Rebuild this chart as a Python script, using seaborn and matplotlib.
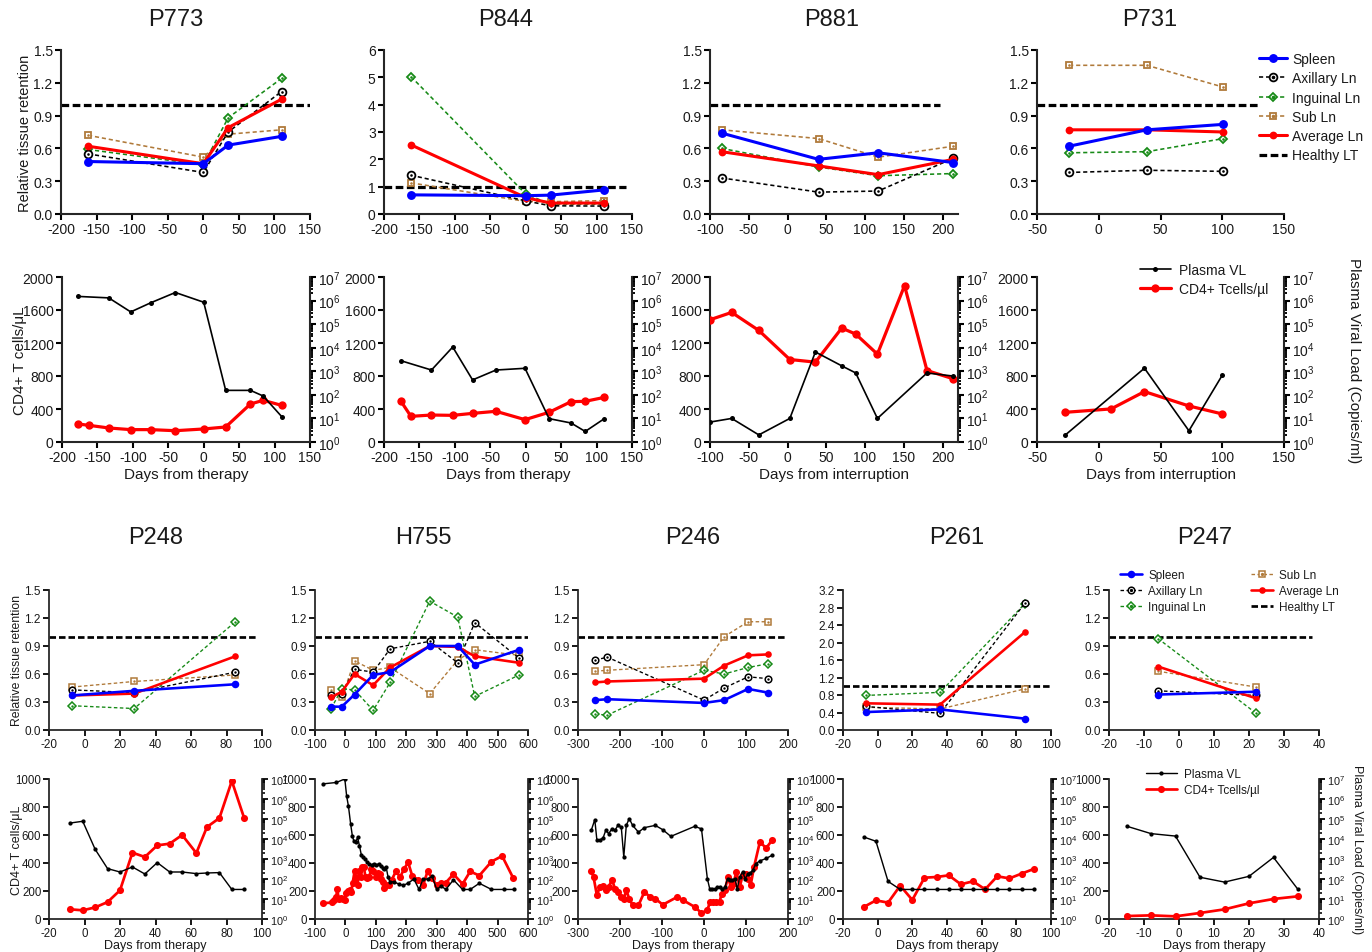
import numpy as np
import matplotlib
matplotlib.use("Agg")
import matplotlib.pyplot as plt
import seaborn as sns
from matplotlib.lines import Line2D
from matplotlib.ticker import LogLocator, NullFormatter, FormatStrFormatter, FixedLocator

# ====================== DATA ======================
# ---- tissue retention (top half) ----
p773_days = [-162, 0, 35, 110]
p773_spleen = [0.48, 0.46, 0.63, 0.71]
p773_axillary = [0.55, 0.38, 0.75, 1.12]
p773_inguinal = [0.59, 0.45, 0.88, 1.24]
p773_sub = [0.72, 0.52, 0.73, 0.77]
p773_average = [0.62, 0.46, 0.79, 1.05]
p773_healthy_x = [-200, 150]

p844_days = [-162, 0, 35, 110]
p844_spleen = [0.70, 0.67, 0.69, 0.88]
p844_axillary = [1.42, 0.48, 0.30, 0.29]
p844_inguinal = [5.03, 0.73, 0.36, 0.36]
p844_sub = [1.14, 0.46, 0.45, 0.49]
p844_average = [2.53, 0.60, 0.40, 0.40]
p844_healthy_x = [-200, 142]

p881_days = [-85, 40, 117, 214]
p881_spleen = [0.74, 0.50, 0.56, 0.47]
p881_axillary = [0.33, 0.20, 0.21, 0.51]
p881_inguinal = [0.60, 0.43, 0.35, 0.37]
p881_sub = [0.77, 0.69, 0.52, 0.62]
p881_average = [0.57, 0.44, 0.36, 0.50]
p881_healthy_x = [-100, 197]

p731_days = [-24, 39, 101]
p731_spleen = [0.62, 0.77, 0.82]
p731_axillary = [0.38, 0.40, 0.39]
p731_inguinal = [0.56, 0.57, 0.69]
p731_sub = [1.36, 1.36, 1.16]
p731_average = [0.77, 0.77, 0.75]
p731_healthy_x = [-50, 130]

# ---- tissue retention (bottom half) ----
p248_days = [-7, 28, 85]
p248_spleen = [0.37, 0.42, 0.49]
p248_axillary = [0.43, 0.40, 0.62]
p248_inguinal = [0.26, 0.23, 1.16]
p248_sub = [0.46, 0.52, 0.59]
p248_average = [0.37, 0.39, 0.79]
p248_healthy_x = [-20, 98]

h755_days = [-47, -12, 30, 91, 147, 277, 369, 425, 571]
h755_spleen = [0.25, 0.25, 0.38, 0.59, 0.62, 0.90, 0.90, 0.70, 0.86]
h755_axillary = [0.37, 0.39, 0.65, 0.62, 0.87, 0.95, 0.72, 1.15, 0.77]
h755_inguinal = [0.23, 0.44, 0.43, 0.21, 0.51, 1.38, 1.21, 0.36, 0.59]
h755_sub = [0.43, 0.35, 0.74, 0.64, 0.67, 0.39, 0.75, 0.86, 0.80]
h755_average = [0.35, 0.41, 0.60, 0.48, 0.67, 0.90, 0.89, 0.79, 0.72]
h755_healthy_x = [-100, 600]

p246_days = [-259, -230, 0, 48, 105, 153]
p246_spleen = [0.32, 0.33, 0.29, 0.32, 0.44, 0.40]
p246_axillary = [0.75, 0.78, 0.32, 0.45, 0.57, 0.55]
p246_inguinal = [0.17, 0.16, 0.64, 0.60, 0.67, 0.71]
p246_sub = [0.63, 0.64, 0.70, 1.00, 1.16, 1.16]
p246_average = [0.51, 0.52, 0.55, 0.69, 0.80, 0.81]
p246_healthy_x = [-300, 195]

p261_days = [-7, 36, 85]
p261_spleen = [0.41, 0.47, 0.26]
p261_axillary = [0.54, 0.38, 2.90]
p261_inguinal = [0.79, 0.86, 2.89]
p261_sub = [0.52, 0.48, 0.94]
p261_average = [0.61, 0.58, 2.24]
p261_healthy_x = [-20, 100]

p247_days = [-6, 22]
p247_spleen = [0.38, 0.41]
p247_axillary = [0.42, 0.37]
p247_inguinal = [0.98, 0.18]
p247_sub = [0.63, 0.46]
p247_average = [0.68, 0.34]
p247_healthy_x = [-20, 38]

healthy_level = 1.0

# ---- CD4 counts and plasma viral load ----
p773_cd4_days = [-177, -162, -134, -103, -75, -40, 0, 31, 66, 84, 110]
p773_cd4 = [218, 202, 170, 150, 150, 137, 158, 182, 461, 505, 444]
p773_vl_days = [-177, -134, -103, -75, -40, 0, 31, 66, 84, 110]
p773_vl = [1.5e6, 1.3e6, 3.3e5, 8.0e5, 2.2e6, 8.5e5, 155, 155, 89, 12]

p844_cd4_days = [-176, -162, -133, -103, -75, -42, -1, 33, 64, 84, 111]
p844_cd4 = [493, 311, 327, 323, 347, 372, 271, 360, 489, 493, 541]
p844_vl_days = [-176, -133, -103, -75, -42, -1, 33, 64, 84, 111]
p844_vl = [2800, 1130, 10700, 430, 1130, 1340, 9.8, 6.4, 2.8, 9.8]

p881_cd4_days = [-100, -72, -37, 3, 36, 70, 88, 116, 151, 180, 213]
p881_cd4 = [1482, 1571, 1352, 1000, 968, 1381, 1308, 1065, 1895, 866, 769]
p881_vl_days = [-100, -72, -37, 3, 36, 70, 88, 116, 180, 213]
p881_vl = [7, 10, 2, 10, 6600, 1700, 850, 10, 850, 630]

p731_cd4_days = [-27, 10, 37, 73, 100]
p731_cd4 = [360, 401, 611, 437, 340]
p731_vl_days = [-27, 37, 73, 100]
p731_vl = [2, 1350, 3, 680]

p248_cd4_days = [-8, -1, 6, 13, 20, 27, 34, 41, 48, 55, 63, 69, 76, 83, 90]
p248_cd4 = [69, 62, 83, 121, 205, 474, 443, 526, 538, 600, 471, 657, 721, 986, 719]
p248_vl_days = [-8, -1, 6, 13, 20, 27, 34, 41, 48, 55, 63, 69, 76, 83, 90]
p248_vl = [63000, 77000, 3050, 330, 224, 400, 178, 660, 224, 224, 186, 200, 209, 30, 30]

h755_cd4_days = [-74, -45, -37, -30, -27, -22, -15, -8, -3, 3, 8, 14, 19, 24, 30, 36, 40, 44,
                 50, 56, 60, 66, 72, 78, 85, 92, 100, 106, 112, 118, 124, 128, 134, 142, 152,
                 166, 180, 192, 206, 220, 240, 255, 270, 285, 300, 315, 330, 355, 385, 410,
                 440, 480, 515, 552]
h755_cd4 = [112, 118, 135, 160, 215, 145, 150, 140, 135, 185, 200, 210, 195, 260, 340, 290, 240,
            340, 300, 370, 375, 300, 290, 300, 360, 340, 300, 330, 325, 285, 265, 220, 245, 240,
            280, 340, 300, 355, 405, 305, 280, 240, 340, 290, 240, 255, 260, 320, 250, 340, 310,
            410, 450, 290]
h755_vl_days = [-74, -30, -2, 4, 10, 17, 23, 28, 34, 40, 46, 52, 58, 64, 70, 78, 86, 94, 102, 110,
                116, 122, 128, 134, 140, 146, 160, 175, 190, 205, 225, 242, 255, 270, 285, 300,
                315, 330, 355, 385, 410, 440, 480, 520, 555]
h755_vl = [5.7e6, 6.7e6, 1.0e7, 1.4e6, 4.3e5, 5.8e4, 1.35e4, 7700, 7100, 1.2e4, 4700, 1660, 1200,
           1020, 740, 540, 500, 580, 500, 580, 460, 360, 305, 390, 126, 72, 72, 56, 48, 61, 99, 30,
           99, 99, 136, 30, 44, 30, 91, 30, 30, 61, 30, 30, 30]

p246_cd4_days = [-268, -263, -255, -248, -240, -234, -227, -219, -212, -205, -198, -191, -185,
                 -178, -170, -156, -142, -128, -116, -98, -64, -49, -22, -6, 8, 14, 21, 29, 37,
                 42, 50, 57, 64, 70, 77, 85, 92, 99, 105, 111, 119, 133, 148, 162]
p246_cd4 = [340, 300, 169, 229, 233, 205, 229, 281, 217, 193, 157, 145, 205, 145, 98, 98, 193,
            157, 145, 102, 157, 133, 86, 43, 62, 121, 121, 121, 121, 181, 210, 300, 229, 252, 336,
            229, 312, 324, 288, 240, 371, 550, 507, 562]
p246_vl_days = [-268, -260, -255, -248, -240, -234, -227, -219, -212, -205, -197, -191, -185,
                -178, -170, -156, -142, -116, -98, -79, -22, -6, 8, 14, 20, 26, 32, 38, 44, 50,
                56, 61, 67, 74, 79, 85, 92, 98, 105, 110, 117, 123, 133, 148, 162]
p246_vl = [29000, 93000, 8600, 8600, 11700, 27000, 18600, 33000, 27000, 48000, 40000, 1260,
           48000, 105000, 48000, 22000, 37000, 48000, 29000, 13500, 43000, 32000, 104, 30, 30,
           30, 40, 40, 30, 40, 104, 86, 86, 104, 30, 126, 225, 104, 185, 200, 290, 580, 800,
           1070, 1530]

p261_cd4_days = [-8, -1, 6, 13, 20, 27, 34, 41, 48, 55, 62, 69, 76, 83, 90]
p261_cd4 = [86, 133, 117, 238, 136, 295, 300, 312, 248, 269, 212, 305, 290, 324, 357]
p261_vl_days = [-8, -1, 6, 13, 20, 27, 34, 41, 48, 55, 62, 69, 76, 83, 90]
p261_vl = [12600, 7700, 76, 30, 30, 30, 30, 30, 30, 30, 30, 30, 30, 30, 30]

p247_cd4_days = [-15, -8, -1, 6, 13, 20, 27, 34]
p247_cd4 = [21, 26, 19, 43, 69, 112, 143, 162]
p247_vl_days = [-15, -8, -1, 6, 13, 20, 27, 34]
p247_vl = [44000, 18600, 14000, 122, 70, 136, 1200, 30]

tissue_labels = ["Spleen", "Axillary Ln", "Inguinal Ln", "Sub Ln", "Average Ln", "Healthy LT"]
vl_labels = ["Plasma VL", "CD4+ Tcells/\u00b5l"]

# ====================== STYLE ======================
sns.set_style("ticks")
plt.rcParams["font.family"] = ["Liberation Sans", "DejaVu Sans"]
plt.rcParams["axes.unicode_minus"] = False
plt.rcParams["mathtext.fontset"] = "custom"
plt.rcParams["mathtext.rm"] = "Liberation Sans"
plt.rcParams["mathtext.it"] = "Liberation Sans:italic"
plt.rcParams["mathtext.bf"] = "Liberation Sans:bold"

C_SPLEEN = "#0000ff"
C_AX = "#000000"
C_ING = "#178a17"
C_SUB = "#b07a3a"
C_AVG = "#ff0000"
TXT = "#1a1a1a"
DASH = (0, (2.6, 1.8))
HDASH = (0, (2.4, 1.1))

W, H = 1372, 953
fig = plt.figure(figsize=(W / 100, H / 100), dpi=100)


def pos(x0, x1, y0, y1):
    return [x0 / W, 1 - y1 / H, (x1 - x0) / W, (y1 - y0) / H]


def style_axes(ax, lw, fs, pad=2):
    sns.despine(ax=ax)
    ax.spines["left"].set_linewidth(lw)
    ax.spines["bottom"].set_linewidth(lw)
    ax.tick_params(direction="out", length=4, width=lw, labelsize=fs, pad=pad,
                   color="black", labelcolor=TXT)


def series(ax, days, vals, color, solid, marker, filled, sc, z):
    lw = (2.2 if solid else 1.15) * sc
    ls = "-" if solid else DASH
    if marker == "o":
        ms = (6.4 if color == C_SPLEEN else 5.6) * sc
    elif marker == "s":
        ms = 5.0 * sc
    else:
        ms = 4.4 * sc
    sns.lineplot(x=days, y=vals, ax=ax, color=color, linewidth=lw, linestyle=ls,
                 marker=marker, markersize=ms,
                 markerfacecolor=color if filled else "white",
                 markeredgecolor=color, markeredgewidth=0 if filled else 1.3 * sc,
                 sort=False, errorbar=None, legend=False, zorder=z)
    if not filled:
        sns.scatterplot(x=days, y=vals, ax=ax, color=color, s=3.5 * sc, linewidth=0,
                        legend=False, zorder=z + 0.5)


def tissue_panel(rect, days, sp, axl, ing, sub, avg, hx, xlim, xticks, ylim, yticks, fmt,
                 sc, fs, ylabel=None, ylab_x=None, ylab_fs=10):
    ax = fig.add_axes(rect)
    sns.lineplot(x=hx, y=[healthy_level, healthy_level], ax=ax, color="black",
                 linewidth=2.3 * sc, linestyle=HDASH, errorbar=None, legend=False, zorder=1)
    series(ax, days, sub, C_SUB, False, "s", False, sc, 3)
    series(ax, days, ing, C_ING, False, "D", False, sc, 4)
    series(ax, days, axl, C_AX, False, "o", False, sc, 5)
    series(ax, days, avg, C_AVG, True, "o", True, sc, 6)
    series(ax, days, sp, C_SPLEEN, True, "o", True, sc, 7)
    ax.set_xlim(*xlim)
    ax.set_ylim(*ylim)
    ax.xaxis.set_major_locator(FixedLocator(xticks))
    ax.yaxis.set_major_locator(FixedLocator(yticks))
    ax.yaxis.set_major_formatter(FormatStrFormatter(fmt))
    style_axes(ax, 1.5 * sc, fs)
    ax.set_xlabel("")
    if ylabel:
        ax.set_ylabel(ylabel, fontsize=ylab_fs, color=TXT, rotation=90, va="center",
                      ha="center", rotation_mode="default")
        ax.yaxis.set_label_coords(ylab_x, 0.5)
    else:
        ax.set_ylabel("")
    return ax


def vl_panel(rect, cd_days, cd, vl_days, vl, xlim, xticks, ymax, yticks, xlabel, sc, fs,
             lab_fs, ylabel=None, ylab_x=None, rlabel=None, rlab_x=None, xpad=2,
             rfs=None, tpad=2):
    ax = fig.add_axes(rect)
    ax2 = ax.twinx()
    ax2.set_yscale("log")
    sns.lineplot(x=cd_days, y=cd, ax=ax, color=C_AVG, linewidth=2.3 * sc, marker="o",
                 markersize=6.0 * sc, markerfacecolor=C_AVG, markeredgecolor=C_AVG,
                 markeredgewidth=0, sort=False, errorbar=None, legend=False, zorder=3)
    sns.lineplot(x=vl_days, y=vl, ax=ax2, color="black", linewidth=1.2 * sc, marker="o",
                 markersize=3.6 * sc, markerfacecolor="black", markeredgecolor="black",
                 markeredgewidth=0, sort=False, errorbar=None, legend=False, zorder=3)
    ax.set_xlim(*xlim)
    ax.set_ylim(0, ymax)
    ax2.set_ylim(1, 1e7)
    ax.xaxis.set_major_locator(FixedLocator(xticks))
    ax.yaxis.set_major_locator(FixedLocator(yticks))
    lw = 1.5 * sc
    style_axes(ax, lw, fs, pad=tpad)
    for s in ["top", "left", "bottom"]:
        ax2.spines[s].set_visible(False)
    ax2.spines["right"].set_visible(True)
    ax2.spines["right"].set_linewidth(lw)
    ax2.yaxis.set_major_locator(LogLocator(base=10, numticks=12))
    ax2.yaxis.set_minor_locator(LogLocator(base=10, subs=np.arange(2, 10), numticks=100))
    ax2.yaxis.set_minor_formatter(NullFormatter())
    ax2.tick_params(which="major", direction="out", length=4, width=lw,
                    labelsize=rfs if rfs else fs, pad=tpad, color="black", labelcolor=TXT)
    ax2.tick_params(which="minor", direction="out", length=2.5, width=0.9 * lw, color="black")
    ax.set_xlabel(xlabel, fontsize=lab_fs, color=TXT, labelpad=xpad)
    if ylabel:
        ax.set_ylabel(ylabel, fontsize=lab_fs, color=TXT, rotation=90, va="center",
                      ha="center", rotation_mode="default")
        ax.yaxis.set_label_coords(ylab_x, 0.5)
    else:
        ax.set_ylabel("")
    if rlabel:
        ax2.set_ylabel(rlabel, fontsize=lab_fs, color=TXT, rotation=270, va="center",
                       ha="center", rotation_mode="default")
        ax2.yaxis.set_label_coords(rlab_x, 0.5)
    else:
        ax2.set_ylabel("")
    return ax, ax2


t_y = [0.0, 0.3, 0.6, 0.9, 1.2, 1.5]

# ---------------- Row 1: tissue ----------------
tissue_panel(pos(61, 310, 51, 215), p773_days, p773_spleen, p773_axillary, p773_inguinal,
             p773_sub, p773_average, p773_healthy_x, (-200, 150), range(-200, 151, 50),
             (0, 1.5), t_y, "%.1f", 1.0, 10, "Relative tissue retention", -0.145, 10.5)
tissue_panel(pos(384, 632, 51, 215), p844_days, p844_spleen, p844_axillary, p844_inguinal,
             p844_sub, p844_average, p844_healthy_x, (-200, 150), range(-200, 151, 50),
             (0, 6), range(0, 7), "%d", 1.0, 10)
tissue_panel(pos(710, 958, 51, 215), p881_days, p881_spleen, p881_axillary, p881_inguinal,
             p881_sub, p881_average, p881_healthy_x, (-100, 220), range(-100, 201, 50),
             (0, 1.5), t_y, "%.1f", 1.0, 10)
tissue_panel(pos(1037, 1284, 51, 215), p731_days, p731_spleen, p731_axillary, p731_inguinal,
             p731_sub, p731_average, p731_healthy_x, (-50, 150), range(-50, 151, 50),
             (0, 1.5), t_y, "%.1f", 1.0, 10)

# ---------------- Row 2: CD4 / VL ----------------
vl_panel(pos(62, 310, 278, 443), p773_cd4_days, p773_cd4, p773_vl_days, p773_vl,
         (-200, 150), range(-200, 151, 50), 2000, range(0, 2001, 400), "Days from therapy",
         1.0, 10, 11, ylabel="CD4+ T cells/\u03bcL", ylab_x=-0.17)
vl_panel(pos(384, 632, 278, 443), p844_cd4_days, p844_cd4, p844_vl_days, p844_vl,
         (-200, 150), range(-200, 151, 50), 2000, range(0, 2001, 400), "Days from therapy",
         1.0, 10, 11)
vl_panel(pos(710, 958, 278, 443), p881_cd4_days, p881_cd4, p881_vl_days, p881_vl,
         (-100, 220), range(-100, 201, 50), 2000, range(0, 2001, 400),
         "Days from interruption", 1.0, 10, 11)
vl_panel(pos(1037, 1284, 278, 443), p731_cd4_days, p731_cd4, p731_vl_days, p731_vl,
         (-50, 150), range(-50, 151, 50), 2000, range(0, 2001, 400),
         "Days from interruption", 1.0, 10, 11,
         rlabel="Plasma Viral Load (Copies/ml)", rlab_x=1.285)

# ---------------- Row 3: tissue ----------------
S = 0.85
tissue_panel(pos(49, 262, 591, 731), p248_days, p248_spleen, p248_axillary, p248_inguinal,
             p248_sub, p248_average, p248_healthy_x, (-20, 100), range(-20, 101, 20),
             (0, 1.5), t_y, "%.1f", S, 8.5, "Relative tissue retention", -0.148, 8.8)
tissue_panel(pos(315, 528, 591, 731), h755_days, h755_spleen, h755_axillary, h755_inguinal,
             h755_sub, h755_average, h755_healthy_x, (-100, 600), range(-100, 601, 100),
             (0, 1.5), t_y, "%.1f", S, 8.5)
tissue_panel(pos(578, 788, 591, 731), p246_days, p246_spleen, p246_axillary, p246_inguinal,
             p246_sub, p246_average, p246_healthy_x, (-300, 200), range(-300, 201, 100),
             (0, 1.5), t_y, "%.1f", S, 8.5)
tissue_panel(pos(843, 1051, 591, 731), p261_days, p261_spleen, p261_axillary, p261_inguinal,
             p261_sub, p261_average, p261_healthy_x, (-20, 100), range(-20, 101, 20),
             (0, 3.2), [0.0, 0.4, 0.8, 1.2, 1.6, 2.0, 2.4, 2.8, 3.2], "%.1f", S, 8.5)
tissue_panel(pos(1109, 1319, 591, 731), p247_days, p247_spleen, p247_axillary, p247_inguinal,
             p247_sub, p247_average, p247_healthy_x, (-20, 40), range(-20, 41, 10),
             (0, 1.5), t_y, "%.1f", S, 8.5)

# ---------------- Row 4: CD4 / VL ----------------
XP = 0.5
R4 = dict(xpad=XP, rfs=7.8, tpad=1.5)
vl_panel(pos(49, 262, 780, 920), p248_cd4_days, p248_cd4, p248_vl_days, p248_vl,
         (-20, 100), range(-20, 101, 20), 1000, range(0, 1001, 200), "Days from therapy",
         S, 8.3, 9.0, ylabel="CD4+ T cells/\u03bcL", ylab_x=-0.148, **R4)
vl_panel(pos(315, 528, 780, 920), h755_cd4_days, h755_cd4, h755_vl_days, h755_vl,
         (-100, 600), range(-100, 601, 100), 1000, range(0, 1001, 200), "Days from therapy",
         S, 8.3, 9.0, **R4)
vl_panel(pos(578, 788, 780, 920), p246_cd4_days, p246_cd4, p246_vl_days, p246_vl,
         (-300, 200), range(-300, 201, 100), 1000, range(0, 1001, 200), "Days from therapy",
         S, 8.3, 9.0, **R4)
vl_panel(pos(843, 1051, 780, 920), p261_cd4_days, p261_cd4, p261_vl_days, p261_vl,
         (-20, 100), range(-20, 101, 20), 1000, range(0, 1001, 200), "Days from therapy",
         S, 8.3, 9.0, **R4)
vl_panel(pos(1109, 1319, 780, 920), p247_cd4_days, p247_cd4, p247_vl_days, p247_vl,
         (-20, 40), range(-20, 41, 10), 1000, range(0, 1001, 200), "Days from therapy",
         S, 8.3, 9.0, rlabel="Plasma Viral Load (Copies/ml)", rlab_x=1.18, **R4)

# ---------------- Titles ----------------
titles_top = [("P773", 176), ("P844", 506), ("P881", 832), ("P731", 1150)]
titles_bot = [("P248", 156), ("H755", 423), ("P246", 693), ("P261", 957), ("P247", 1205)]
for name, x in titles_top:
    fig.text(x / W, 1 - 20 / H, name, ha="center", va="center", fontsize=17, color=TXT)
for name, x in titles_bot:
    fig.text(x / W, 1 - 538 / H, name, ha="center", va="center", fontsize=17, color=TXT)


# ---------------- Legends ----------------
def tissue_handles(sc):
    def open_h(color, marker, ms):
        return (Line2D([], [], color=color, lw=1.15 * sc, linestyle=DASH, marker=marker,
                       markersize=ms * sc, markerfacecolor="white", markeredgecolor=color,
                       markeredgewidth=1.3 * sc),
                Line2D([], [], linestyle="", marker="o", markersize=1.6 * sc, color=color))
    return [
        Line2D([], [], color=C_SPLEEN, lw=2.2 * sc, marker="o", markersize=6.4 * sc,
               markeredgewidth=0),
        open_h(C_AX, "o", 5.6),
        open_h(C_ING, "D", 4.4),
        open_h(C_SUB, "s", 5.0),
        Line2D([], [], color=C_AVG, lw=2.2 * sc, marker="o", markersize=5.6 * sc,
               markeredgewidth=0),
        Line2D([], [], color="black", lw=2.3 * sc, linestyle=HDASH),
    ]


def vl_handles(sc):
    return [
        Line2D([], [], color="black", lw=1.2 * sc, marker="o", markersize=3.6 * sc,
               markeredgewidth=0),
        Line2D([], [], color=C_AVG, lw=2.3 * sc, marker="o", markersize=6.0 * sc,
               markeredgewidth=0),
    ]


leg_kw = dict(loc="upper left", bbox_transform=fig.transFigure, frameon=False,
              borderpad=0, borderaxespad=0, numpoints=1, labelcolor=TXT)
fig.legend(tissue_handles(1.0), tissue_labels, bbox_to_anchor=(1259 / W, 1 - 53 / H),
           fontsize=10, handlelength=2.0, handletextpad=0.4, labelspacing=0.38, **leg_kw)
fig.legend(vl_handles(1.0), vl_labels, bbox_to_anchor=(1140 / W, 1 - 264 / H),
           fontsize=10, handlelength=2.2, handletextpad=0.6, labelspacing=0.35, **leg_kw)
fig.legend(tissue_handles(S), tissue_labels, ncol=2,
           bbox_to_anchor=(1120 / W, 1 - 570 / H), fontsize=8.5, handlelength=1.9,
           handletextpad=0.5, labelspacing=0.35, columnspacing=3.8, **leg_kw)
fig.legend(vl_handles(S), vl_labels, bbox_to_anchor=(1146 / W, 1 - 769 / H),
           fontsize=8.5, handlelength=2.6, handletextpad=0.6, labelspacing=0.35, **leg_kw)

fig.savefig("out.png", dpi=100, facecolor="white")
